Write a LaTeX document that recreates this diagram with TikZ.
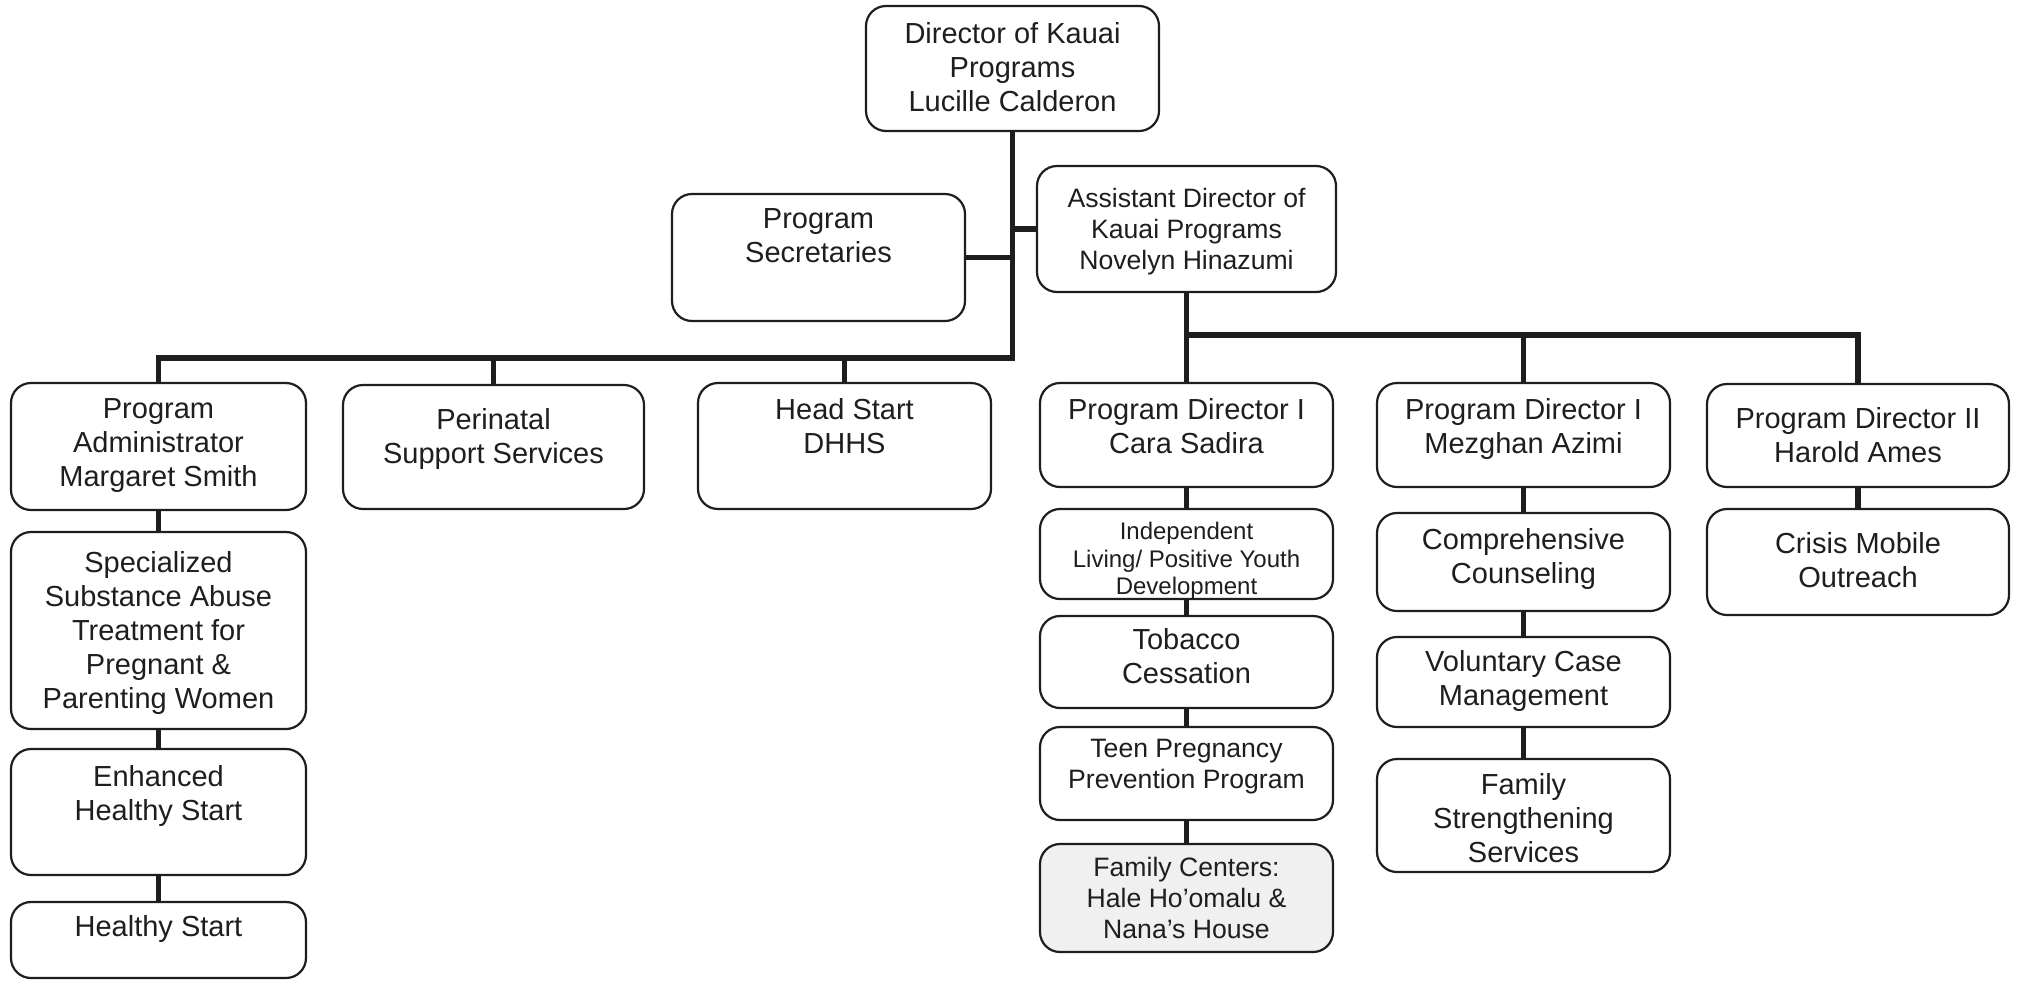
\documentclass[tikz,border=0pt]{standalone}
\usepackage{fontspec}
\setmainfont{Liberation Sans}
\usetikzlibrary{fit,backgrounds}
\definecolor{ink}{HTML}{1E1E1E}
\tikzset{
  obox/.style={draw=ink, line width=1.1pt, rounded corners=10pt, fill=white, inner sep=0pt},
  otext/.style={text=ink, align=center, inner sep=0pt},
  fbig/.style={font=\fontsize{14.5}{17}\selectfont},
  fmid/.style={font=\fontsize{13.3}{15.5}\selectfont},
  fsmall/.style={font=\fontsize{12}{13.75}\selectfont},
  conn/.style={draw=ink, line width=2.6pt, line cap=rect},
}
% name, x1, y1, x2, y2, text top, font style, text
\newcommand\obox[8]{%
  \node[obox, fit={(#2,#3) (#4,#5)}] (#1) {};
  \node[otext, #7, anchor=north] (#1-t) at ({(#2+#4)/2},#6) {#8};}
\begin{document}
\begin{tikzpicture}[x=0.5pt,y=-0.5pt]
\useasboundingbox (0,0) rectangle (2017,980);

\obox{dir}{866}{6}{1159}{131}{22}{fbig}{Director of Kauai\\Programs\\Lucille Calderon}
\obox{sec}{672}{194}{965}{321}{208}{fbig}{Program\\Secretaries}
\obox{ad}{1037}{166}{1336}{292}{188}{fmid}{Assistant Director of\\Kauai Programs\\Novelyn Hinazumi}

\obox{pa}{11}{383}{306}{510}{398}{fbig}{Program\\Administrator\\Margaret Smith}
\obox{peri}{343}{385}{644}{509}{408}{fbig}{Perinatal\\Support Services}
\obox{hs}{698}{383}{991}{509}{398}{fbig}{Head Start\\DHHS}

\obox{cara}{1040}{383}{1333}{487}{398}{fbig}{Program Director I\\Cara Sadira}
\obox{pdb}{1377}{383}{1670}{487}{398}{fbig}{Program Director I\\Mezghan Azimi}
\obox{pdc}{1707}{384}{2009}{487}{407}{fbig}{Program Director II\\Harold Ames}

\obox{ssa}{11}{532}{306}{729}{551}{fbig}{Specialized\\Substance Abuse\\Treatment for\\Pregnant \&\\Parenting Women}
\obox{ehs}{11}{749}{306}{875}{765}{fbig}{Enhanced\\Healthy Start}
\obox{hst}{11}{902}{306}{978}{915}{fbig}{Healthy Start}

\obox{ind}{1040}{509}{1333}{599}{522}{fsmall}{Independent\\Living/ Positive Youth\\Development}
\obox{tob}{1040}{616}{1333}{708}{628}{fbig}{Tobacco\\Cessation}
\obox{teen}{1040}{727}{1333}{820}{739}{fmid}{Teen Pregnancy\\Prevention Program}
\node[obox, fill=gray!12, fit={(1040,844) (1333,952)}] (fc) {};
\node[otext, fmid, anchor=north] (fc-t) at (1186.5,857) {Family Centers:\\Hale Ho’omalu \&\\Nana’s House};

\obox{comp}{1377}{513}{1670}{611}{528}{fbig}{Comprehensive\\Counseling}
\obox{vol}{1377}{637}{1670}{727}{650}{fbig}{Voluntary Case\\Management}
\obox{fs}{1377}{759}{1670}{872}{773}{fbig}{Family\\Strengthening\\Services}

\obox{cri}{1707}{509}{2009}{615}{532}{fbig}{Crisis Mobile\\Outreach}

\coordinate (jL) at (1012.5,358);
\coordinate (jR) at (1186.5,335);

\begin{scope}[on background layer]
  \fill[white] (0,0) rectangle (2017,980);
  \draw[conn] (dir.south) -- (jL);
  \draw[conn] (pa.north) |- (jL);
  \draw[conn] (peri.north) -- (peri.north |- jL);
  \draw[conn] (hs.north) -- (hs.north |- jL);
  \draw[conn] (sec.east) -- (sec.east -| dir.south);
  \draw[conn] (ad.west) -- (ad.west -| dir.south);
  \draw[conn] (ad.south) -- (cara.north);
  \draw[conn] (cara.north |- jR) -| (pdc.north);
  \draw[conn] (pdb.north) -- (pdb.north |- jR);
  \draw[conn] (pa.south) -- (ssa.north);
  \draw[conn] (ssa.south) -- (ehs.north);
  \draw[conn] (ehs.south) -- (hst.north);
  \draw[conn] (cara.south) -- (ind.north);
  \draw[conn] (ind.south) -- (tob.north);
  \draw[conn] (tob.south) -- (teen.north);
  \draw[conn] (teen.south) -- (fc.north);
  \draw[conn] (pdb.south) -- (comp.north);
  \draw[conn] (comp.south) -- (vol.north);
  \draw[conn] (vol.south) -- (fs.north);
  \draw[conn] (pdc.south) -- (cri.north);
\end{scope}
\end{tikzpicture}
\end{document}
